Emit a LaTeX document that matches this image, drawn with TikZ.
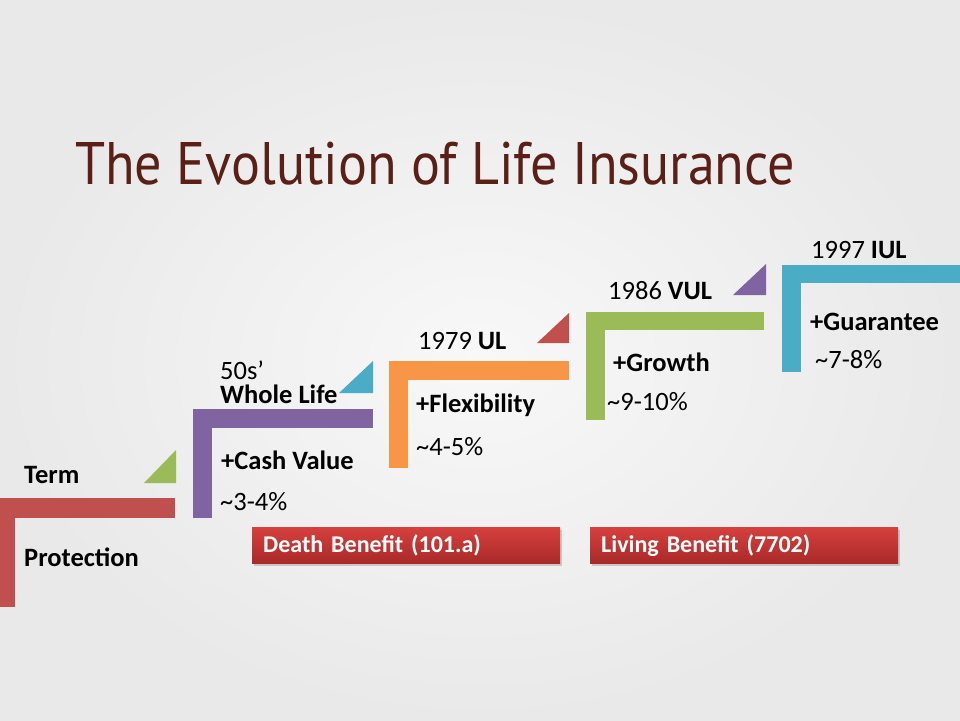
\documentclass[tikz,border=0pt]{standalone}
\usepackage{fontspec}
\setmainfont{Carlito}
\newfontfamily\titlefont{PT Sans}
\usetikzlibrary{shadows}

\definecolor{termred}{HTML}{C0504D}
\definecolor{wlpurple}{HTML}{8064A2}
\definecolor{ulorange}{HTML}{F79646}
\definecolor{vulgreen}{HTML}{9BBB59}
\definecolor{iulblue}{HTML}{4BACC6}
\definecolor{titlebrown}{HTML}{5A1F16}
\definecolor{boxtop}{HTML}{D6403E}
\definecolor{boxbot}{HTML}{A92A28}
\definecolor{bgin}{HTML}{F8F8F8}
\definecolor{bgout}{HTML}{E9E9E9}

\tikzset{
	lbl/.style={anchor=base west,inner sep=0pt,font=\fontsize{26.5}{30}\selectfont},
	benefit/.style={anchor=north west,minimum height=36pt,text width=286pt,inner xsep=11pt,
		align=left,top color=boxtop,bottom color=boxbot,text=white,
		font=\bfseries\fontsize{24}{28}\selectfont,
		drop shadow={shadow xshift=2pt,shadow yshift=-3pt,opacity=0.35}}
}

\begin{document}
\begin{tikzpicture}[x=1pt,y=-1pt]
		% background
		\shade [inner color=bgin,outer color=bgout] (0,0) rectangle (960,720);
		\useasboundingbox (0,0) rectangle (960,720);
		%
		% title
		\node [anchor=base west,inner sep=0pt,text=titlebrown,
			font=\titlefont\fontsize{60}{62}\selectfont] (title) at (75,184)
			{\resizebox{720pt}{\height}{The Evolution of Life Insurance}};
		%
		% steps
		\fill [termred] (0,498) rectangle (175,518);
		\fill [termred] (0,498) rectangle (15,607);
		\fill [vulgreen] (144,483) -- (176,483) -- (176,450) -- cycle;
		%
		\fill [wlpurple] (193,409) rectangle (373,428);
		\fill [wlpurple] (193,409) rectangle (212,518);
		\fill [iulblue] (339,393) -- (373,393) -- (373,361) -- cycle;
		%
		\fill [ulorange] (389,361) rectangle (569,380);
		\fill [ulorange] (389,361) rectangle (408,468);
		\fill [termred] (537,343) -- (569,343) -- (569,313) -- cycle;
		%
		\fill [vulgreen] (586,312) rectangle (764,330);
		\fill [vulgreen] (586,312) rectangle (605,420);
		\fill [wlpurple] (733,295) -- (766,295) -- (766,264) -- cycle;
		%
		\fill [iulblue] (782,265) rectangle (960,283);
		\fill [iulblue] (782,265) rectangle (801,372);
		%
		% labels
		\node [lbl] (term) at (24,483) {\textbf{Term}};
		\node [lbl] (protection) at (24,566) {\textbf{Protection}};
		\node [lbl] (wlyear) at (220,379) {50s’};
		\node [lbl] (wlname) at (220,403) {\textbf{Whole Life}};
		\node [lbl] (cashvalue) at (221,469) {\textbf{+Cash Value}};
		\node [lbl] (wlrate) at (220,510) {\textasciitilde3-4\%};
		\node [lbl] (ulname) at (418,349) {1979 \textbf{UL}};
		\node [lbl] (flexibility) at (416,412) {\textbf{+Flexibility}};
		\node [lbl] (ulrate) at (416,455) {\textasciitilde4-5\%};
		\node [lbl] (vulname) at (608,299) {1986 \textbf{VUL}};
		\node [lbl] (growth) at (613,371) {\textbf{+Growth}};
		\node [lbl] (vulrate) at (607,410) {\textasciitilde9-10\%};
		\node [lbl] (iulname) at (811,258) {1997 \textbf{IUL}};
		\node [lbl] (guarantee) at (810,330) {\textbf{+Guarantee}};
		\node [lbl] (iulrate) at (815,368) {\textasciitilde7-8\%};
		%
		% benefit boxes
		\node [benefit] (death) at (252,527) {Death Benefit (101.a)};
		\node [benefit] (living) at (590,527) {Living Benefit (7702)};
	\end{tikzpicture}
\end{document}
